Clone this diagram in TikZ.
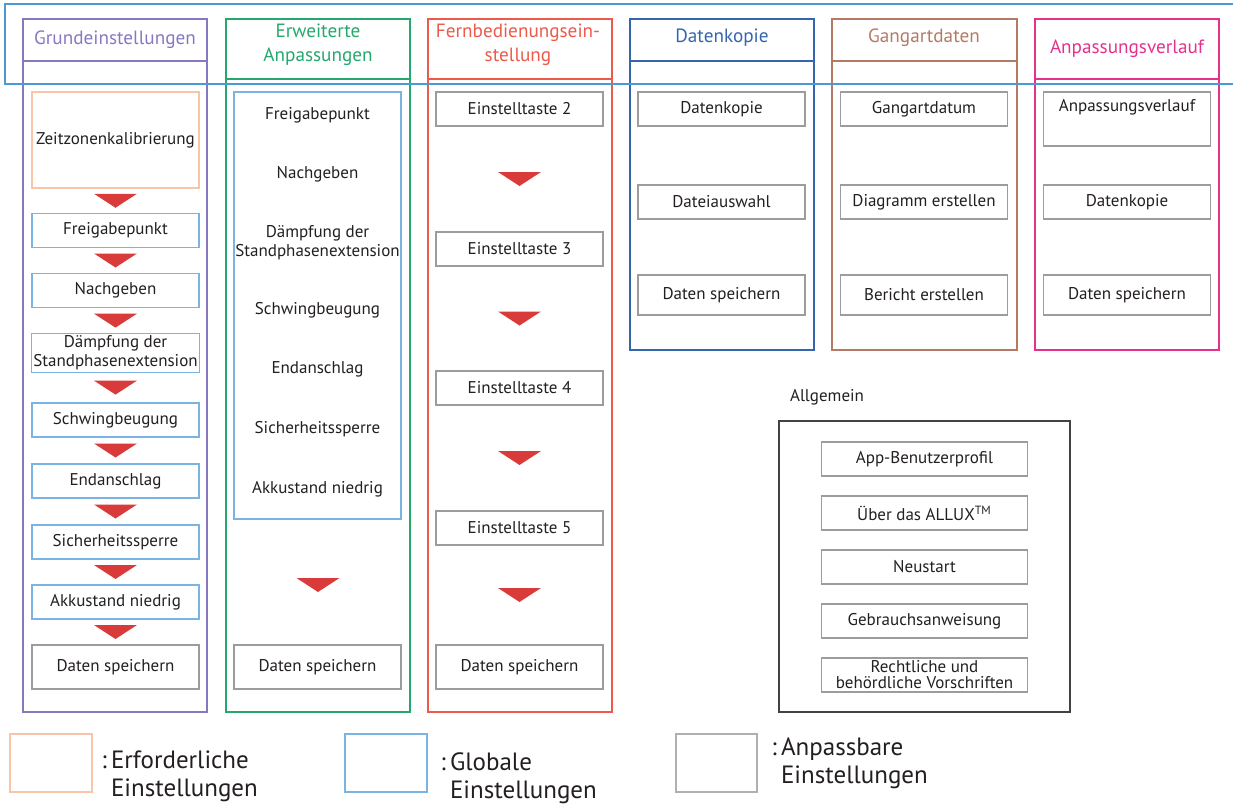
\documentclass[tikz,border=0pt]{standalone}
\usepackage{fontspec}
\setmainfont{PT Sans}
\usetikzlibrary{calc}

\definecolor{grundcol}{HTML}{8878C0}
\definecolor{erwcol}{HTML}{25A86E}
\definecolor{ferncol}{HTML}{EB5A4A}
\definecolor{datencol}{HTML}{3465AD}
\definecolor{gangcol}{HTML}{B47A64}
\definecolor{verlcol}{HTML}{E5318C}
\definecolor{reqorange}{HTML}{F8C5A8}
\definecolor{globblue}{HTML}{7BB3E3}
\definecolor{boxgray}{HTML}{9C9C9C}
\definecolor{arrowred}{HTML}{D93A3A}
\definecolor{topblue}{HTML}{4A9AD6}
\definecolor{txtcol}{HTML}{231F20}

\tikzset{
  colframe/.style={line width=0.9pt},
  head/.style={font=\fontsize{9.6}{12}\selectfont, align=center},
  item/.style={draw=boxgray, line width=0.6pt, minimum width=83.5pt, minimum height=17pt,
    inner sep=1pt, align=center, text=txtcol, font=\fontsize{8.5}{9.5}\selectfont},
  glob/.style={item, draw=globblue},
  req/.style={item, draw=reqorange},
  plain/.style={align=center, text=txtcol, font=\fontsize{8.5}{9.5}\selectfont},
  legtxt/.style={align=left, anchor=west, text=txtcol, font=\fontsize{12.5}{14}\selectfont},
  downtri/.pic={\fill[arrowred] (-21.5,-7) -- (21.5,-7) -- (0,7) -- cycle;}
}

\begin{document}
\begin{tikzpicture}[x=0.5pt,y=-0.5pt]
\useasboundingbox (0,0) rectangle (1233,809);

% column frames
\draw[grundcol,colframe] (23,19) rectangle (207,712) (23,61) -- (207,61);
\draw[erwcol,colframe] (226,19) rectangle (410,712) (226,79) -- (410,79);
\draw[ferncol,colframe] (428,19) rectangle (612,712) (428,79) -- (612,79);
\draw[datencol,colframe] (630,19) rectangle (814,350) (630,61) -- (814,61);
\draw[gangcol,colframe] (832,19) rectangle (1017,350) (832,61) -- (1017,61);
\draw[verlcol,colframe] (1035,19) rectangle (1219,350) (1035,79) -- (1219,79);

% headers
\node[head, text=grundcol] (hGrund) at (115,40) {Grundeinstellungen};
\node[head, text=erwcol] (hErw) at (318,45) {Erweiterte\\Anpassungen};
\node[head, text=ferncol] (hFern) at (518,45) {Fernbedienungsein-\\stellung};
\node[head, text=datencol] (hDaten) at (722,38) {Datenkopie};
\node[head, text=gangcol] (hGang) at (924,38) {Gangartdaten};
\node[head, text=verlcol] (hVerl) at (1127,49) {Anpassungsverlauf};

% Grundeinstellungen
\node[req, minimum height=48pt] (z1) at (115.5,140) {Zeitzonenkalibrierung};
\foreach \nm/\yy/\txt in {f1/230.5/Freigabepunkt, n1/290.5/Nachgeben,
  d1/353/{Dämpfung der\\Standphasenextension}, s1/420/Schwingbeugung,
  e1/481/Endanschlag, si1/542/Sicherheitssperre, a1/602/Akkustand niedrig}
  \node[glob] (\nm) at (115.5,\yy) {\txt};
\node[item, minimum height=22pt] (ds1) at (115.5,667) {Daten speichern};
\foreach \a/\b in {z1/f1, f1/n1, n1/d1, d1/s1, s1/e1, e1/si1, si1/a1, a1/ds1}
  \pic at ($(\a.south)!.5!(\b.north)$) {downtri};

% Erweiterte Anpassungen
\draw[globblue, line width=0.6pt] (234,92) rectangle (401,519);
\foreach \nm/\yy/\txt in {f2/115/Freigabepunkt, n2/174/Nachgeben,
  d2/243/{Dämpfung der\\Standphasenextension}, s2/310/Schwingbeugung,
  e2/369/Endanschlag, si2/429/Sicherheitssperre, a2/489/Akkustand niedrig}
  \node[plain] (\nm) at (317.5,\yy) {\txt};
\node[item, minimum height=22pt] (ds2) at (317.5,667) {Daten speichern};
\pic at (318,585) {downtri};

% Fernbedienungseinstellung
\foreach \nm/\yy/\txt in {t2/109/Einstelltaste 2, t3/249/Einstelltaste 3,
  t4/388/Einstelltaste 4, t5/528/Einstelltaste 5}
  \node[item] (\nm) at (519.5,\yy) {\txt};
\node[item, minimum height=22pt] (ds3) at (519.5,667) {Daten speichern};
\foreach \a/\b in {t2/t3, t3/t4, t4/t5, t5/ds3}
  \pic at ($(\a.south)!.5!(\b.north)$) {downtri};

% Datenkopie, Gangartdaten, Anpassungsverlauf
\node[item] (k1) at (721.5,109) {Datenkopie};
\node[item] (k2) at (721.5,202) {Dateiauswahl};
\node[item, minimum height=20pt] (k3) at (721.5,295) {Daten speichern};
\node[item] (g1) at (924,109) {Gangartdatum};
\node[item] (g2) at (924,202) {Diagramm erstellen};
\node[item, minimum height=20pt] (g3) at (924,295) {Bericht erstellen};
\node[item, minimum height=27pt, text depth=14pt] (v1) at (1127,119) {Anpassungsverlauf};
\node[item] (v2) at (1127,202) {Datenkopie};
\node[item, minimum height=20pt] (v3) at (1127,295) {Daten speichern};

% Allgemein
\node[plain, anchor=west] (allg) at (783,397) {Allgemein};
\draw[txtcol!85, line width=0.7pt] (779,421) rectangle (1070,712);
\foreach \nm/\yy/\txt in {al1/459/App-Benutzerprofil, al2/513/{Über das ALLUX\textsuperscript{TM}},
  al3/567/Neustart, al4/621/Gebrauchsanweisung}
  \node[item, minimum width=103pt] (\nm) at (924.5,\yy) {\txt};
\node[item, minimum width=103pt, font=\fontsize{8.5}{8}\selectfont] (al5) at (924.5,675)
  {Rechtliche und\\behördliche Vorschriften};

% legend
\node[draw=reqorange, line width=0.6pt, minimum width=41pt, minimum height=29pt] (legReq) at (51,763) {};
\node[draw=globblue, line width=0.6pt, minimum width=41pt, minimum height=29pt] (legGlob) at (386,763) {};
\node[draw=boxgray!80, line width=0.6pt, minimum width=40.5pt, minimum height=29pt] (legAdj) at (716.5,763) {};
\node[legtxt] (legReqT) at (104,776) {\llap{:\,}Erforderliche\\Einstellungen};
\node[legtxt] (legGlobT) at (443,778) {\llap{:\,}Globale\\Einstellungen};
\node[legtxt] (legAdjT) at (774,763) {\llap{:\,}Anpassbare\\Einstellungen};

% top band
\draw[topblue, line width=0.9pt] (1233,4) -- (5,4) -- (5,84) -- (1233,84);
\end{tikzpicture}
\end{document}
